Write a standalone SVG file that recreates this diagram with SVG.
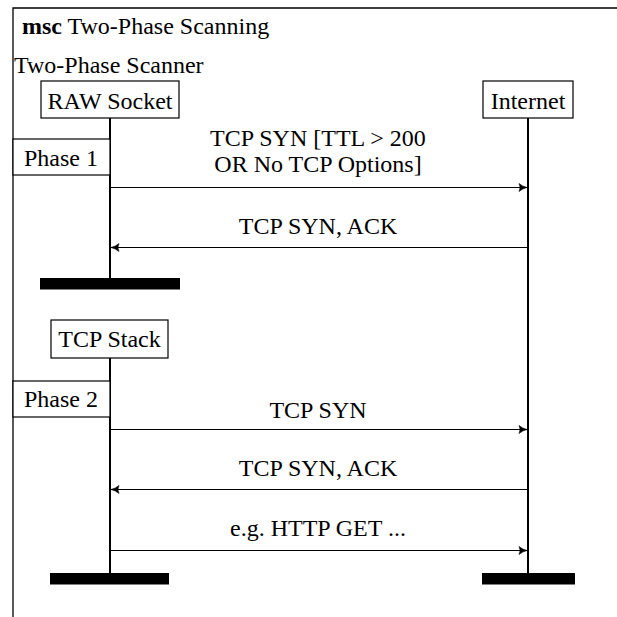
<svg xmlns="http://www.w3.org/2000/svg" width="617" height="617" viewBox="0 0 617 617">
<defs>
<style>
text{font-family:"Liberation Serif","Times New Roman",serif;font-size:24px;fill:#000}
.c{text-anchor:middle}
.box{fill:#fff;stroke:#000;stroke-width:1.2}
.life{stroke:#000;stroke-width:2;fill:none}
.msg{stroke:#000;stroke-width:1.2;fill:none}
.bar{fill:#000}
</style>
<marker id="ah" markerWidth="10" markerHeight="10" refX="9" refY="5" orient="auto-start-reverse" markerUnits="userSpaceOnUse">
<path d="M1,1 Q4.5,4 9,5 Q4.5,6 1,9 Q3,5 1,1 Z" fill="#000" stroke="#000" stroke-width="0.6" stroke-linejoin="round"/>
</marker>
</defs>
<g id="frame">
<path d="M13,617 V8 H617" fill="none" stroke="#000" stroke-width="1.3"/>
<text x="22" y="34"><tspan font-weight="bold">msc</tspan> Two-Phase Scanning</text>
<text x="14" y="72.5">Two-Phase Scanner</text>
</g>
<g id="lifelines">
<line class="life" x1="110" y1="118" x2="110" y2="279"/>
<line class="life" x1="110" y1="358" x2="110" y2="574"/>
<line class="life" x1="528" y1="118" x2="528" y2="574"/>
</g>
<g id="raw-socket">
<rect class="box" x="41" y="81" width="138" height="37"/>
<text class="c" x="110" y="109.3">RAW Socket</text>
<rect class="bar" x="40" y="278" width="140" height="11.5"/>
</g>
<g id="internet">
<rect class="box" x="483" y="81" width="90" height="37"/>
<text class="c" x="528" y="109.3">Internet</text>
<rect class="bar" x="482" y="573" width="93" height="11.5"/>
</g>
<g id="tcp-stack">
<rect class="box" x="51" y="320" width="117" height="38"/>
<text class="c" x="109.5" y="347.3">TCP Stack</text>
<rect class="bar" x="50" y="573" width="119" height="11.5"/>
</g>
<g id="phase1">
<rect class="box" x="13" y="139" width="97" height="36"/>
<text class="c" x="61" y="165.7">Phase 1</text>
</g>
<g id="phase2">
<rect class="box" x="13" y="381" width="97" height="36"/>
<text class="c" x="61" y="406.7">Phase 2</text>
</g>
<g id="connectors">
<line class="msg" x1="111" y1="187.5" x2="527" y2="187.5" marker-end="url(#ah)"/>
<line class="msg" x1="527" y1="247.5" x2="111" y2="247.5" marker-end="url(#ah)"/>
<line class="msg" x1="111" y1="429.5" x2="527" y2="429.5" marker-end="url(#ah)"/>
<line class="msg" x1="527" y1="489.5" x2="111" y2="489.5" marker-end="url(#ah)"/>
<line class="msg" x1="111" y1="550.5" x2="527" y2="550.5" marker-end="url(#ah)"/>
<text class="c" x="318" y="146">TCP SYN [TTL &gt; 200</text>
<text class="c" x="318" y="172">OR No TCP Options]</text>
<text class="c" x="318" y="233.5">TCP SYN, ACK</text>
<text class="c" x="318" y="418">TCP SYN</text>
<text class="c" x="318" y="475.7">TCP SYN, ACK</text>
<text class="c" x="318" y="535.7">e.g. HTTP GET ...</text>
</g>
</svg>
